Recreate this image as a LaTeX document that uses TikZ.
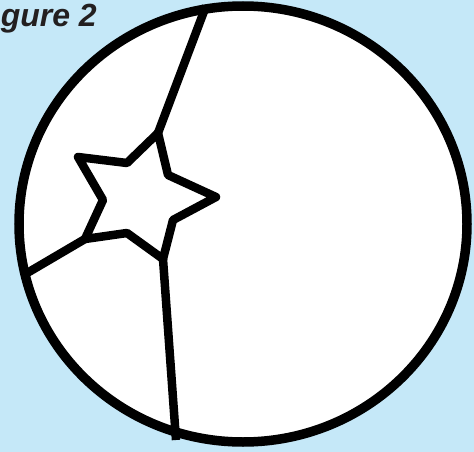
\documentclass[tikz,border=0pt]{standalone}
\usepackage{fontspec}
\setmainfont{Liberation Sans}
\usetikzlibrary{positioning}
\definecolor{skyback}{HTML}{C5E8F8}
\definecolor{captgray}{HTML}{231F20}

\begin{document}
\begin{tikzpicture}[
    x=1pt, y=-1pt,
    rimfill/.style={fill=white},
    rim/.style={draw=black, line width=9.5pt},
    edge/.style={draw=black, line width=8.5pt, line join=round, line cap=butt},
    caption/.style={font=\fontsize{32}{36}\selectfont\bfseries\itshape, text=captgray, inner sep=0pt, anchor=base east}
]
    % background and page size
    \fill[skyback] (0,0) rectangle (474,452);
    \useasboundingbox (0,0) rectangle (474,452);

    \node[caption] (figlabel) at (97,26.5) {gure 2};

    \fill[rimfill] (243,224) ellipse [x radius=224pt, y radius=218pt];

    % star
    \coordinate (tipN)  at (158,133);
    \coordinate (inNE)  at (168,175);
    \coordinate (tipE)  at (216,197);
    \coordinate (inSE)  at (173,220);
    \coordinate (tipS)  at (163,259);
    \coordinate (inS)   at (127,233);
    \coordinate (tipSW) at (85,239);
    \coordinate (inW)   at (103,200);
    \coordinate (tipNW) at (78,157);
    \coordinate (inN)   at (127,163);

    % where the borders meet the rim
    \coordinate (rimN) at (206,6);
    \coordinate (rimW) at (22,276);
    \coordinate (rimS) at (176,440);

    \draw[edge] (tipN) -- (inNE) -- (tipE) -- (inSE) -- (tipS) -- (inS)
        -- (tipSW) -- (inW) -- (tipNW) -- (inN) -- cycle;

    \draw[edge] (tipN) -- (rimN);
    \draw[edge] (tipSW) -- (rimW);
    \draw[edge] (tipS) -- (rimS);

    \draw[rim] (243,224) ellipse [x radius=224pt, y radius=218pt];
\end{tikzpicture}
\end{document}
